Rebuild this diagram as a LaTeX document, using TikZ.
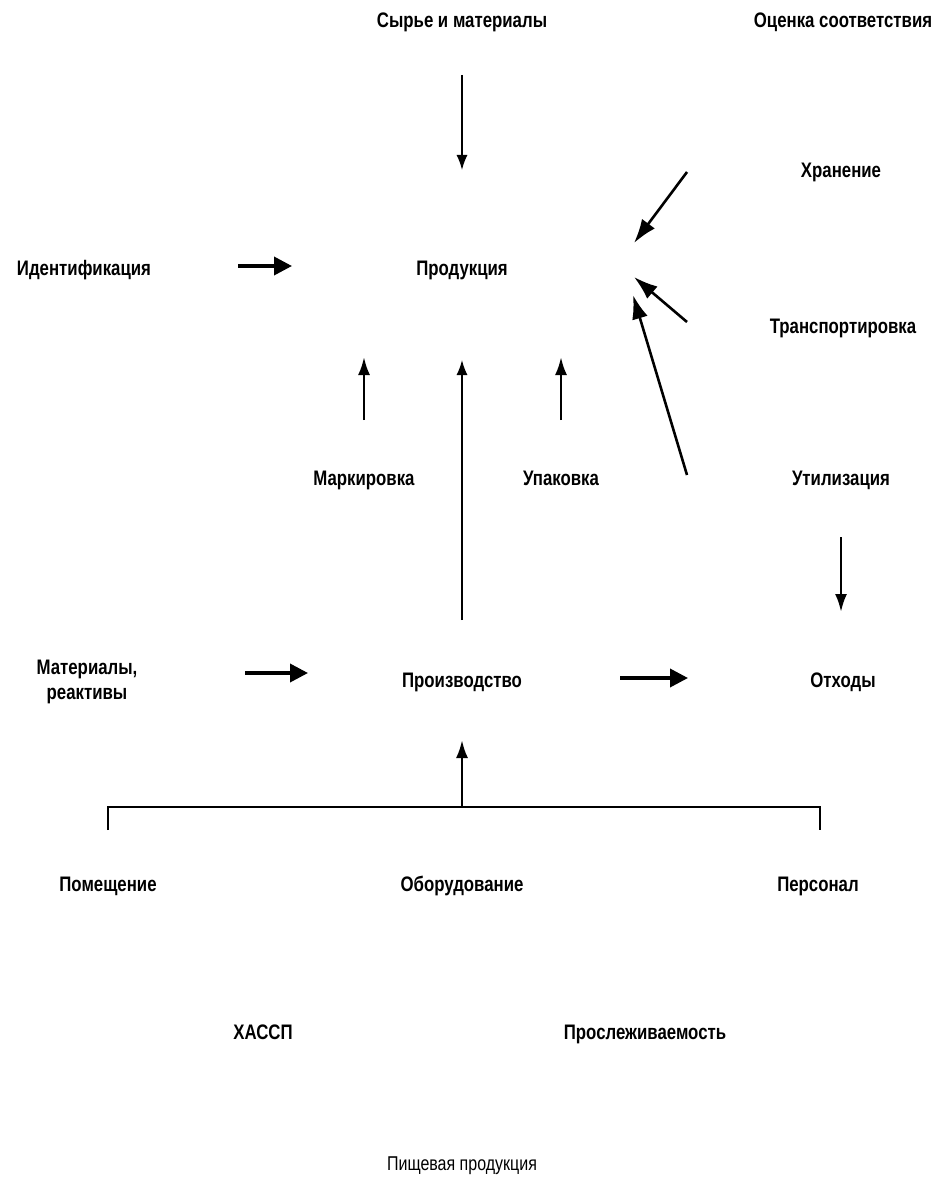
\documentclass[tikz,border=0pt]{standalone}
\usepackage{fontspec}
\newfontfamily\cond{Liberation Sans}[FakeStretch=0.8]
\usetikzlibrary{arrows.meta,calc}
\tikzset{
  lbl/.style={font=\cond\bfseries\fontsize{21}{25}\selectfont, inner sep=0pt, align=center, text height=15pt, text depth=4pt},
  foot/.style={font=\cond\fontsize{20}{23}\selectfont, inner sep=0pt, text height=14pt, text depth=4pt},
  thinarr/.style={line width=1.5pt, -{Latex[length=15pt,width=11pt]}},
  medarr/.style={line width=2.6pt, -{Latex[length=18pt,width=12pt]}},
  diagarr/.style={line width=2.6pt, -{Latex[length=24pt,width=16pt]}},
  thickarr/.style={line width=3.6pt, -{Triangle[length=18pt,width=18pt]}},
  bracket/.style={line width=1.8pt}
}
\begin{document}
\begin{tikzpicture}[x=1pt,y=-1pt]
\useasboundingbox (0,0) rectangle (937,1182);
\node[lbl] (syr) at (462,22) {Сырье и материалы};
\node[lbl] (ocen) at (843,22) {Оценка соответствия};
\node[lbl] (store) at (841,172) {Хранение};
\node[lbl] (ident) at (84,270) {Идентификация};
\node[lbl] (prod) at (462,270) {Продукция};
\node[lbl] (trans) at (843,328) {Транспортировка};
\node[lbl] (mark) at (364,480) {Маркировка};
\node[lbl] (pack) at (561,480) {Упаковка};
\node[lbl] (util) at (841,480) {Утилизация};
\node[lbl] (mat) at (87,694) {Материалы,\\реактивы};
\node[lbl] (proizv) at (462,682) {Производство};
\node[lbl] (waste) at (843,682) {Отходы};
\node[lbl] (pom) at (108,886) {Помещение};
\node[lbl] (obor) at (462,886) {Оборудование};
\node[lbl] (pers) at (818,886) {Персонал};
\node[lbl] (haccp) at (263,1034) {ХАССП};
\node[lbl] (trace) at (645,1034) {Прослеживаемость};
\node[foot] (food) at (462,1165) {Пищевая продукция};

% vertical / horizontal arrows
\draw[thinarr, shorten <=53pt, shorten >=100pt] (syr.center) -- (prod.center);
\draw[thickarr, shorten <=154pt, shorten >=170pt] ([yshift=4pt]ident.center) -- ([yshift=4pt]prod.center);
\draw[medarr, shorten <=60pt, shorten >=87pt] (mark.center) -- (mark.center |- prod.center);
\draw[medarr, shorten <=60pt, shorten >=87pt] (pack.center) -- (pack.center |- prod.center);
\draw[thinarr, shorten <=62pt, shorten >=90pt] (proizv.center) -- (prod.center);
\draw[medarr, shorten <=57pt, shorten >=70pt] (util.center) -- (util.center |- waste.center);
\coordinate (matR) at ([yshift=9pt]proizv.center);
\draw[thickarr, shorten <=158pt, shorten >=154pt] (mat.center |- matR) -- (matR);
\draw[thickarr, shorten <=158pt, shorten >=155pt] ([yshift=4pt]proizv.center) -- ([yshift=4pt]waste.center);

% diagonal arrows into Продукция
\coordinate (sS) at ($(store.center)+(-154,0)$);
\coordinate (sE) at ($(prod.center)+(172,-27)$);
\coordinate (tS) at ($(trans.center)+(-156,-6)$);
\coordinate (tE) at ($(prod.center)+(172,7)$);
\coordinate (uS) at ($(util.center)+(-154,-5)$);
\coordinate (uE) at ($(prod.center)+(171,25)$);
\draw[diagarr] (sS) -- (sE);
\draw[diagarr] (tS) -- (tE);
\draw[diagarr] (uS) -- (uE);

% bracket under Производство
\coordinate (bL) at ($(pom.center)+(0,-79)$);
\coordinate (bR) at ($(pers.center)+(2,-79)$);
\coordinate (bM) at (obor.center |- bL);
\draw[bracket] ($(pom.center)+(0,-56)$) -- (bL) -- (bR) -- ($(pers.center)+(2,-56)$);
\draw[medarr, shorten >=58pt] (bM) -- (proizv.center);
\end{tikzpicture}
\end{document}
